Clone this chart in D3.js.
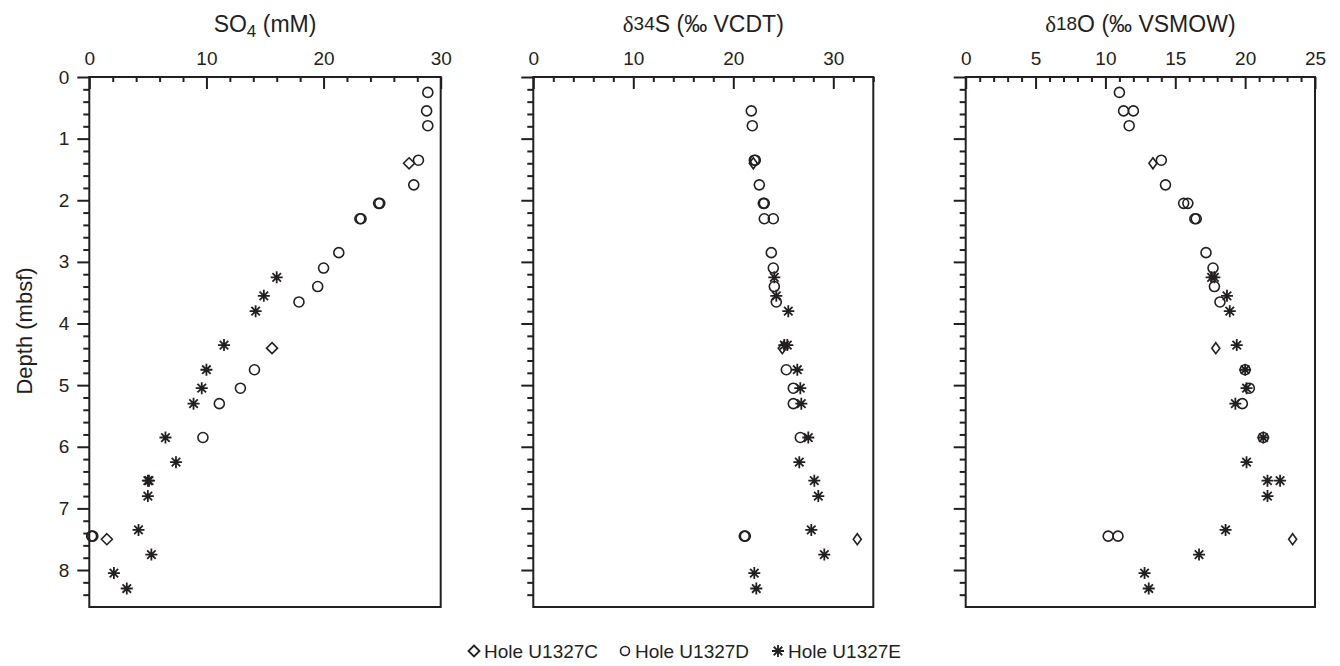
<!DOCTYPE html>
<html>
<head>
<meta charset="utf-8">
<script src="https://cdn.jsdelivr.net/npm/d3@7"></script>
<style>
  body { margin: 0; background: #fff; }
  svg text { font-family: "Liberation Sans", Arial, Helvetica, sans-serif; }
</style>
</head>
<body>
<svg id="profiles"></svg>
<script>
// Hole names (legend)
const holes = ["Hole U1327C", "Hole U1327D", "Hole U1327E"];

// Tick labels
const depthTicks = [0, 1, 2, 3, 4, 5, 6, 7, 8];
const so4Ticks = [0, 10, 20, 30];
const d34Ticks = [0, 10, 20, 30];
const d18Ticks = [0, 5, 10, 15, 20, 25];

// [depth (mbsf), value]
const so4C = [[1.40, 27.3], [4.40, 15.6], [7.50, 1.5]];
const so4D = [[0.25, 28.9], [0.55, 28.8], [0.79, 28.9], [1.35, 28.1], [1.75, 27.7],
  [2.05, 24.7], [2.05, 24.8], [2.30, 23.1], [2.30, 23.2], [2.85, 21.3], [3.10, 20.0],
  [3.40, 19.5], [3.65, 17.9], [4.75, 14.1], [5.05, 12.9], [5.30, 11.1], [5.85, 9.7],
  [7.45, 0.2], [7.45, 0.3]];
const so4E = [[3.25, 16.0], [3.55, 14.9], [3.80, 14.2], [4.35, 11.5], [4.75, 10.0],
  [5.05, 9.6], [5.30, 8.9], [5.85, 6.5], [6.25, 7.4], [6.55, 5.0], [6.55, 5.1],
  [6.80, 5.0], [7.35, 4.2], [7.75, 5.3], [8.05, 2.1], [8.30, 3.2]];

const d34C = [[1.40, 22.0], [4.40, 24.9], [7.50, 32.4]];
const d34D = [[0.55, 21.8], [0.79, 21.9], [1.35, 22.1], [1.35, 22.2], [1.75, 22.6],
  [2.05, 23.0], [2.05, 23.1], [2.30, 23.1], [2.30, 24.0], [2.85, 23.8], [3.10, 24.0],
  [3.40, 24.1], [3.65, 24.3], [4.75, 25.3], [5.05, 26.0], [5.30, 26.0], [5.85, 26.7],
  [7.45, 21.1], [7.45, 21.2]];
const d34E = [[3.25, 24.1], [3.55, 24.3], [3.80, 25.5], [4.35, 25.1], [4.35, 25.4],
  [4.75, 26.4], [5.05, 26.7], [5.30, 26.8], [5.85, 27.5], [6.25, 26.6], [6.55, 28.1],
  [6.80, 28.5], [7.35, 27.8], [7.75, 29.1], [8.05, 22.1], [8.30, 22.3]];

const d18C = [[1.40, 13.4], [4.40, 17.9], [7.50, 23.4]];
const d18D = [[0.25, 11.0], [0.55, 11.3], [0.55, 12.0], [0.79, 11.7], [1.35, 14.0],
  [1.75, 14.3], [2.05, 15.6], [2.05, 15.9], [2.30, 16.4], [2.30, 16.5], [2.85, 17.2],
  [3.10, 17.7], [3.40, 17.8], [3.65, 18.2], [4.75, 20.0], [5.05, 20.3], [5.30, 19.8],
  [5.85, 21.3], [7.45, 10.2], [7.45, 10.9]];
const d18E = [[3.25, 17.6], [3.25, 17.8], [3.55, 18.7], [3.80, 18.9], [4.35, 19.4],
  [4.75, 20.0], [5.05, 20.1], [5.30, 19.3], [5.85, 21.3], [6.25, 20.1], [6.55, 21.6],
  [6.55, 22.5], [6.80, 21.6], [7.35, 18.6], [7.75, 16.7], [8.05, 12.8], [8.30, 13.1]];

const ink = "#231f20";

// marker shapes
function diamondPath(w, h) {
    return `M0,${-h / 2}L${w / 2},0L0,${h / 2}L${-w / 2},0Z`;
}
function asteriskPath(r) {
    let p = "";
    [0, 45, 90, 135].forEach(a => {
        const t = a * Math.PI / 180;
        const dx = r * Math.sin(t), dy = r * Math.cos(t);
        p += `M${-dx},${-dy}L${dx},${dy}`;
    });
    return p;
}

// d3 axis resets font attrs, so restyle after the call
function styleAxis(a) {
    a.select(".domain").remove();
    a.attr("font-size", 19).attr("font-family", null).style("color", ink);
    a.selectAll("line").attr("stroke-width", 2);
}

function createProfiles() {
    const width = 1340, height = 666;
    const top = 77, bottom = 607;

    const svg = d3.select("#profiles")
        .attr("width", width)
        .attr("height", height);

    const y = d3.scaleLinear().domain([0, 8.6]).range([top, bottom]);

    const panels = [
        { title: "so4", ticks: so4Ticks, minorStep: 2, domain: [0, 30], range: [89.3, 440.7],
          C: so4C, D: so4D, E: so4E, labelsY: true, dW: 11 },
        { title: "d34", ticks: d34Ticks, minorStep: 2, domain: [0, 34], range: [533.3, 873.3],
          C: d34C, D: d34D, E: d34E, labelsY: false, dW: 8 },
        { title: "d18", ticks: d18Ticks, minorStep: 1, domain: [0, 25], range: [965.7, 1315],
          C: d18C, D: d18D, E: d18E, labelsY: false, dW: 8 }
    ];

    panels.forEach(p => {
        const x = d3.scaleLinear().domain(p.domain).range(p.range);
        const g = svg.append("g");

        // minor ticks on top (inward)
        const minor = d3.range(p.domain[0], p.domain[1] + 0.001, p.minorStep)
            .filter(v => !p.ticks.includes(v));
        g.append("g")
            .attr("transform", `translate(0,${top})`)
            .call(d3.axisTop(x).tickValues(minor).tickSize(-5).tickFormat(""))
            .call(styleAxis);

        // major ticks on top
        g.append("g")
            .attr("transform", `translate(0,${top})`)
            .call(d3.axisTop(x).tickValues(p.ticks).tickSize(-12).tickPadding(12))
            .call(styleAxis);

        // left minor ticks (outward)
        const yMinor = d3.range(0, 8.61, 0.2).map(v => +v.toFixed(1))
            .filter(v => !depthTicks.includes(v) && v < 8.55);
        g.append("g")
            .attr("transform", `translate(${p.range[0]},0)`)
            .call(d3.axisLeft(y).tickValues(yMinor).tickSize(6).tickFormat(""))
            .call(styleAxis);

        // left major ticks
        g.append("g")
            .attr("transform", `translate(${p.range[0]},0)`)
            .call(d3.axisLeft(y).tickValues(depthTicks).tickSize(12).tickPadding(8)
                .tickFormat(p.labelsY ? d3.format("d") : () => ""))
            .call(styleAxis);

        // frame
        g.append("rect")
            .attr("x", p.range[0])
            .attr("y", top)
            .attr("width", p.range[1] - p.range[0])
            .attr("height", bottom - top)
            .attr("fill", "none")
            .attr("stroke", ink)
            .attr("stroke-width", 2);

        // title
        const cx = (p.range[0] + p.range[1]) / 2;
        const t = g.append("text")
            .attr("x", cx)
            .attr("y", 32)
            .attr("text-anchor", "middle")
            .attr("font-size", 23)
            .attr("fill", ink);
        if (p.title === "so4") {
            t.append("tspan").text("SO");
            t.append("tspan").attr("font-size", 17).attr("dy", 5).text("4");
            t.append("tspan").attr("dy", -5).text(" (mM)");
        } else {
            t.append("tspan").attr("font-family", "'Liberation Serif', 'Times New Roman', serif").text("\u03B4");
            t.append("tspan").attr("font-size", 19).attr("dy", -2).text(p.title === "d34" ? "34" : "18");
            t.append("tspan").attr("dy", 2).text(p.title === "d34" ? "S (\u2030 VCDT)" : "O (\u2030 VSMOW)");
        }

        // markers: D circles, E asterisks, C diamonds
        g.append("g").selectAll("circle")
            .data(p.D)
            .join("circle")
            .attr("cx", d => x(d[1]))
            .attr("cy", d => y(d[0]))
            .attr("r", 5)
            .attr("fill", "none")
            .attr("stroke", ink)
            .attr("stroke-width", 1.6);

        g.append("g").selectAll("path")
            .data(p.E)
            .join("path")
            .attr("transform", d => `translate(${x(d[1])},${y(d[0])})`)
            .attr("d", asteriskPath(6))
            .attr("stroke", ink)
            .attr("stroke-width", 1.8);

        g.append("g").selectAll("path")
            .data(p.C)
            .join("path")
            .attr("transform", d => `translate(${x(d[1])},${y(d[0])})`)
            .attr("d", diamondPath(p.dW, 11))
            .attr("fill", "none")
            .attr("stroke", ink)
            .attr("stroke-width", 1.6);
    });

    // y axis title
    svg.append("text")
        .attr("transform", "rotate(-90)")
        .attr("x", -331)
        .attr("y", 32)
        .attr("text-anchor", "middle")
        .attr("font-size", 22)
        .attr("fill", ink)
        .text("Depth (mbsf)");

    // legend
    const legendX = [474, 625, 778];
    const legend = svg.append("g").attr("transform", "translate(0,651)");
    holes.forEach((h, i) => {
        const item = legend.append("g").attr("transform", `translate(${legendX[i]},0)`);
        if (i === 0) {
            item.append("path").attr("d", diamondPath(11, 11))
                .attr("fill", "none").attr("stroke", ink).attr("stroke-width", 1.8);
        } else if (i === 1) {
            item.append("circle").attr("r", 4.5)
                .attr("fill", "none").attr("stroke", ink).attr("stroke-width", 1.6);
        } else {
            item.append("path").attr("d", asteriskPath(6))
                .attr("stroke", ink).attr("stroke-width", 1.8);
        }
        item.append("text")
            .attr("x", 10)
            .attr("y", 7)
            .attr("font-size", 19)
            .attr("fill", ink)
            .text(h);
    });
}

createProfiles();
</script>
</body>
</html>
